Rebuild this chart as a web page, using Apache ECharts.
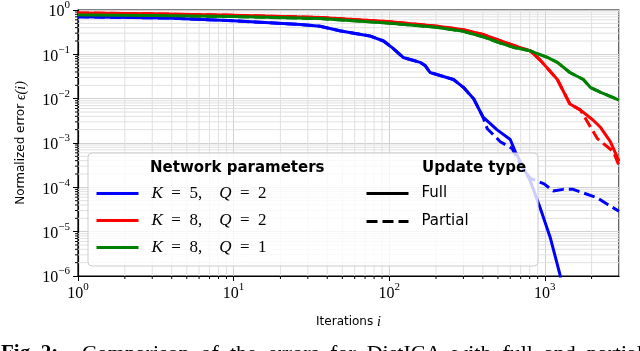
<!DOCTYPE html>
<html>
<head>
<meta charset="utf-8">
<script src="https://cdn.jsdelivr.net/npm/echarts@6/dist/echarts.min.js"></script>
<style>
  html, body { margin: 0; padding: 0; background: #fff; }
  #chart { width: 640px; height: 351px; }
</style>
</head>
<body>
<div id="chart"></div>
<script>
// error curves, [iteration, error]
const blueFull = [
  [1, 0.70], [3.7, 0.66], [10, 0.57], [27, 0.47], [36, 0.43], [48, 0.34],
  [75, 0.26], [92, 0.20], [105, 0.14], [123, 0.085], [158, 0.066],
  [170, 0.056], [183, 0.039], [259, 0.027], [300, 0.018], [350, 0.0098],
  [400, 0.0039], [492, 0.002], [600, 0.0012], [646, 0.00064], [696, 0.00038],
  [806, 0.00014], [935, 3.4e-5], [1084, 7.4e-6], [1255, 1.05e-6], [1300, 5e-7]
];
const bluePartialTail = [
  [427, 0.0021], [518, 0.00107], [617, 0.00075], [720, 0.00027],
  [806, 0.00016], [990, 0.00012], [1130, 8.3e-5], [1315, 9e-5],
  [1520, 9e-5], [2180, 5.8e-5], [2510, 4.2e-5], [3000, 2.9e-5]
];
const redFull = [
  [1, 0.86], [3, 0.82], [10, 0.76], [36, 0.68], [97, 0.55], [204, 0.43],
  [300, 0.36], [400, 0.28], [625, 0.16], [806, 0.12], [935, 0.074],
  [1205, 0.027], [1450, 0.0076], [1690, 0.0056], [2040, 0.0033],
  [2270, 0.0023], [2640, 0.00107], [3000, 0.00039]
];
const redPartialTail = [
  [1770, 0.0043], [2180, 0.00125], [2760, 0.00064], [3000, 0.00031]
];
const greenFull = [
  [1, 0.77], [3, 0.75], [10, 0.71], [36, 0.64], [97, 0.51], [200, 0.41],
  [300, 0.33], [400, 0.25], [518, 0.18], [625, 0.145], [806, 0.12],
  [1040, 0.085], [1205, 0.066], [1450, 0.039], [1770, 0.027], [1960, 0.018],
  [2270, 0.014], [3000, 0.0093]
];
const greenPartialTail = [];

const netNames = ['K5Q2', 'K8Q2', 'K8Q1'];
const netLabels = {
  K5Q2: '{i|K}\u2002=\u20025,\u2003{i|Q}\u2002=\u20022',
  K8Q2: '{i|K}\u2002=\u20028,\u2003{i|Q}\u2002=\u20022',
  K8Q1: '{i|K}\u2002=\u20028,\u2003{i|Q}\u2002=\u20021'
};
const updateNames = ['Full', 'Partial'];
const colors = ['#0000ff', '#ff0000', '#008000'];

const X_MIN = 1, X_MAX = 3000, Y_MIN = 1e-6, Y_MAX = 1;

function withTail(full, tail) {
  if (!tail.length) return full.slice();
  return full.filter(p => p[0] < tail[0][0]).concat(tail);
}

// minor grid positions (2..9 per decade)
const xMinor = [];
for (let d = 1; d <= 1000; d *= 10)
  for (let m = 2; m <= 9; m++) if (m * d < X_MAX) xMinor.push(m * d);
const yMinor = [];
for (let e = -6; e < 0; e++)
  for (let m = 2; m <= 9; m++) yMinor.push(m * Math.pow(10, e));

function supLabel(v) {
  const e = Math.round(Math.log10(v));
  if (Math.abs(Math.log10(v) - e) > 1e-6) return '';
  return '{b|10}{s|' + (e < 0 ? '\u2212' + (-e) : e) + '}';
}
const tickRich = {
  b: { fontFamily: 'Liberation Serif', fontSize: 16, color: '#000', verticalAlign: 'bottom', lineHeight: 20 },
  s: { fontFamily: 'Liberation Serif', fontSize: 11, color: '#000', verticalAlign: 'top', lineHeight: 20 }
};

function minorX(params, api) {
  const v = api.value(0);
  const b = api.coord([v, Y_MIN]);
  const t = api.coord([v, Y_MAX]);
  return {
    type: 'group',
    children: [
      { type: 'line', shape: { x1: b[0], y1: t[1], x2: b[0], y2: b[1] }, style: { stroke: '#e0e0e0', lineWidth: 1 } },
      { type: 'line', shape: { x1: b[0], y1: b[1], x2: b[0], y2: b[1] + 3 }, style: { stroke: '#000', lineWidth: 1 } }
    ]
  };
}
function minorY(params, api) {
  const v = api.value(1);
  const l = api.coord([X_MIN, v]);
  const r = api.coord([X_MAX, v]);
  return {
    type: 'group',
    children: [
      { type: 'line', shape: { x1: l[0], y1: l[1], x2: r[0], y2: l[1] }, style: { stroke: '#e0e0e0', lineWidth: 1 } },
      { type: 'line', shape: { x1: l[0] - 3, y1: l[1], x2: l[0], y2: l[1] }, style: { stroke: '#000', lineWidth: 1 } }
    ]
  };
}

const fulls = [blueFull, redFull, greenFull];
const tails = [bluePartialTail, redPartialTail, greenPartialTail];

const series = [
  { type: 'custom', name: 'xminor', renderItem: minorX, data: xMinor.map(v => [v, Y_MIN]), z: 1, silent: true },
  { type: 'custom', name: 'yminor', renderItem: minorY, data: yMinor.map(v => [X_MIN, v]), z: 1, silent: true }
];
netNames.forEach((n, i) => {
  series.push({
    type: 'line', name: n + ' partial', data: withTail(fulls[i], tails[i]),
    showSymbol: false, symbol: 'none', z: 2,
    lineStyle: { color: colors[i], width: 3, type: [11, 5] }
  });
});
netNames.forEach((n, i) => {
  series.push({
    type: 'line', name: n, data: fulls[i], showSymbol: false, symbol: 'none', z: 3,
    itemStyle: { color: colors[i] },
    lineStyle: { color: colors[i], width: 3 }
  });
});
series.push(
  { type: 'line', name: 'Full', data: [], symbol: 'none', itemStyle: { color: '#000' }, lineStyle: { color: '#000', width: 3 } },
  { type: 'line', name: 'Partial', data: [], symbol: 'none', itemStyle: { color: '#000' }, lineStyle: { color: '#000', width: 3, type: [11, 5] } }
);

const legendIcon = { color: 'rgba(0,0,0,0)', borderColor: 'rgba(0,0,0,0)', borderWidth: 0 };

const chart = echarts.init(document.getElementById('chart'));
chart.setOption({
  animation: false,
  grid: { left: 78, right: 21, top: 7, bottom: 75, show: true, borderColor: '#000', borderWidth: 1.2 },
  xAxis: {
    type: 'log', logBase: 10, min: X_MIN, max: X_MAX,
    axisLine: { lineStyle: { color: '#000', width: 1.2 } },
    axisTick: { length: 5, lineStyle: { color: '#000' } },
    splitLine: { show: true, lineStyle: { color: '#d0d0d0', width: 1 } },
    axisLabel: { formatter: supLabel, rich: tickRich, margin: 6, showMaxLabel: false },
    name: 'Iterations {i|i}', nameLocation: 'middle', nameGap: 39,
    nameTextStyle: {
      fontFamily: 'DejaVu Sans', fontSize: 12, color: '#000',
      rich: { i: { fontFamily: 'Liberation Serif', fontStyle: 'italic', fontSize: 14, color: '#000' } }
    }
  },
  yAxis: {
    type: 'log', logBase: 10, min: Y_MIN, max: Y_MAX,
    axisLine: { show: true, lineStyle: { color: '#000', width: 1.2 } },
    axisTick: { show: true, length: 5, lineStyle: { color: '#000' } },
    splitLine: { show: true, lineStyle: { color: '#d0d0d0', width: 1 } },
    axisLabel: { formatter: supLabel, rich: tickRich, margin: 8 },
    name: 'Normalized error {i|\u03f5(i)}', nameLocation: 'middle', nameGap: 50,
    nameTextStyle: {
      fontFamily: 'DejaVu Sans', fontSize: 12, color: '#000',
      rich: { i: { fontFamily: 'Liberation Serif', fontStyle: 'italic', fontSize: 14, color: '#000' } }
    }
  },
  legend: [
    {
      data: netNames, orient: 'vertical', left: 90, top: 180, itemWidth: 42, itemHeight: 14,
      itemGap: 10, selectedMode: false, z: 6,
      itemStyle: legendIcon, lineStyle: { width: 3 },
      formatter: n => netLabels[n],
      textStyle: {
        fontFamily: 'Liberation Serif', fontSize: 17, color: '#000', padding: [0, 0, 0, 8],
        rich: { i: { fontFamily: 'Liberation Serif', fontStyle: 'italic', fontSize: 17, color: '#000' } }
      }
    },
    {
      data: updateNames, orient: 'vertical', left: 360, top: 181, itemWidth: 42, itemHeight: 14,
      itemGap: 13, selectedMode: false, z: 6,
      itemStyle: legendIcon, lineStyle: { width: 3 },
      textStyle: { fontFamily: 'DejaVu Sans', fontSize: 15, color: '#000', padding: [0, 0, 0, 8] }
    }
  ],
  graphic: [
    { type: 'rect', z: 4, shape: { x: 88, y: 153, width: 450, height: 113, r: 4 },
      style: { fill: 'rgba(255,255,255,0.8)', stroke: '#cccccc', lineWidth: 1 } },
    { type: 'text', z: 6, left: 150, top: 161,
      style: { text: 'Network parameters', font: 'bold 15px "DejaVu Sans"', fill: '#000' } },
    { type: 'text', z: 6, left: 422, top: 161,
      style: { text: 'Update type', font: 'bold 15px "DejaVu Sans"', fill: '#000' } },
    { type: 'text', z: 6, left: 1, top: 343,
      style: { text: 'Fig. 2:', font: 'bold 21px "Liberation Serif"', fill: '#000' } },
    { type: 'text', z: 6, left: 82, top: 343,
      style: { text: 'Comparison\u2002of\u2002the\u2002errors\u2002for\u2002DistICA\u2002with\u2002full\u2002and\u2002partial', font: '22px "Liberation Serif"', fill: '#000' } }
  ],
  series: series
});
</script>
</body>
</html>
